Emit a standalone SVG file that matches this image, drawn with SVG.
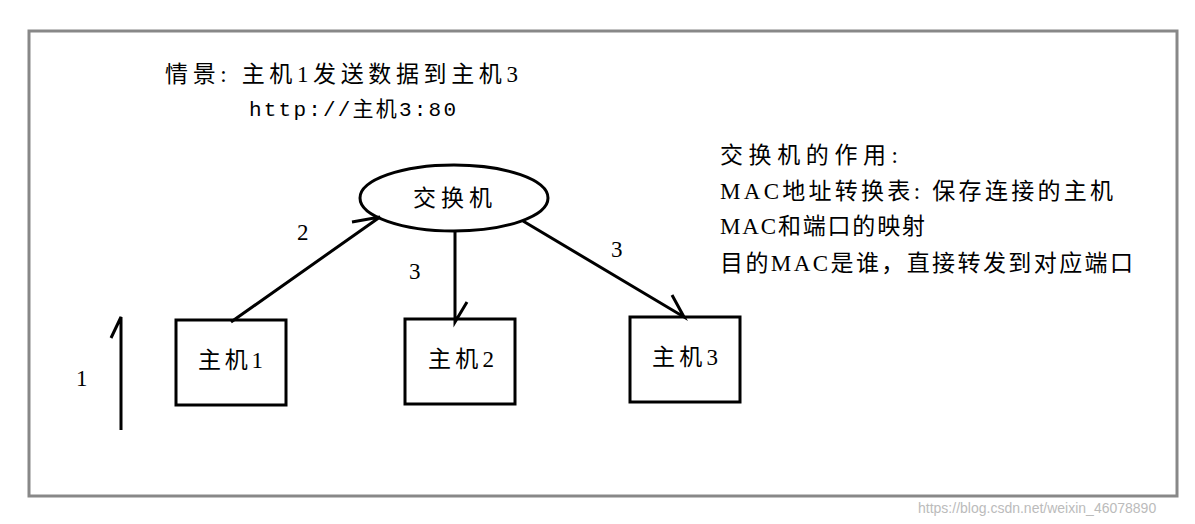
<svg xmlns="http://www.w3.org/2000/svg" width="1195" height="524" viewBox="0 0 1195 524">
<style>
.t{font-family:"Liberation Serif","Noto Sans CJK SC",serif;font-size:23px;fill:#000}
.m{font-family:"Liberation Mono","Noto Sans CJK SC",monospace;font-size:21px;fill:#000}
.s{fill:none;stroke:#000;stroke-width:3}
</style>
<rect width="1195" height="524" fill="#fff"/>
<rect x="29" y="31" width="1148" height="465" fill="none" stroke="#888" stroke-width="3"/>
<text class="t" x="165" y="82" textLength="353">情景: 主机1发送数据到主机3</text>
<text class="m" x="249" y="116" textLength="207">http://主机3:80</text>
<text class="t" x="720" y="163" textLength="178">交换机的作用:</text>
<text class="t" x="720" y="199" textLength="393">MAC地址转换表: 保存连接的主机</text>
<text class="t" x="720" y="234" textLength="205">MAC和端口的映射</text>
<text class="t" x="720" y="271" textLength="413">目的MAC是谁，直接转发到对应端口</text>
<g id="switch"><ellipse class="s" cx="454" cy="198" rx="94" ry="33"/><text class="t" x="413" y="206" textLength="79">交换机</text></g>
<g id="host1"><rect class="s" x="176" y="320" width="110" height="85"/><text class="t" x="198" y="368" textLength="65">主机1</text></g>
<g id="host2"><rect class="s" x="405" y="319" width="110" height="85"/><text class="t" x="428" y="367" textLength="66">主机2</text></g>
<g id="host3"><rect class="s" x="630" y="317" width="110" height="85"/><text class="t" x="652" y="365" textLength="66">主机3</text></g>
<g id="connectors">
<polyline class="s" points="121,430 121,317 111,338"/>
<polyline class="s" points="231,322 380,217 352,222"/>
<polyline class="s" points="455,232 455,322 467,302"/>
<polyline class="s" points="523,221 684,317 672,295"/>
<text class="t" x="76" y="386">1</text>
<text class="t" x="297" y="240">2</text>
<text class="t" x="409" y="279">3</text>
<text class="t" x="611" y="257">3</text>
</g>
<text x="918" y="513" font-family="Liberation Sans,sans-serif" font-size="14" fill="#bbb">https://blog.csdn.net/weixin_46078890</text>
</svg>
